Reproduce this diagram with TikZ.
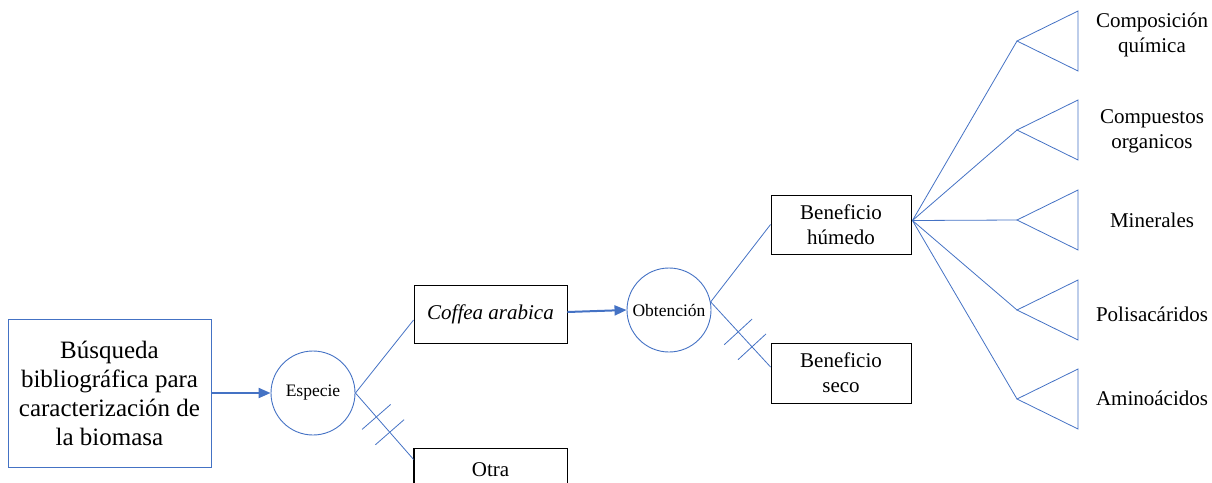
\documentclass[tikz,border=0pt]{standalone}
\usepackage{fontspec}
\setmainfont{Liberation Serif}
\usetikzlibrary{calc,arrows.meta}
\definecolor{wblue}{RGB}{68,114,196}
\begin{document}
\begin{tikzpicture}[x=1pt,y=-1pt,
  conn/.style={draw=wblue,line width=0.8pt},
  arr/.style={draw=wblue,line width=2pt,-{Triangle[length=12pt,width=10pt]}},
  box/.style={draw=black,line width=0.9pt,inner sep=0pt,align=center,font=\fontsize{21}{25}\selectfont},
  circ/.style={draw=wblue,line width=0.9pt,circle,minimum size=84pt,inner sep=0pt,font=\fontsize{17.5}{20}\selectfont},
  lbl/.style={align=center,inner sep=0pt,font=\fontsize{21}{25}\selectfont},
  tri/.style={draw=wblue,line width=0.8pt,line join=miter}]
\useasboundingbox (0,0) rectangle (1212,482);
\clip (0,0) rectangle (1212,482);
% nodes
\node[draw=wblue,line width=0.9pt,minimum width=203pt,minimum height=148pt,align=center,inner sep=0pt,font=\fontsize{25}{29}\selectfont] (main) at (109.5,393) {Búsqueda\\bibliográfica para\\caracterización de\\la biomasa};
\node[circ] (esp) at (313,393) {Especie};
\node[box,minimum width=153pt,minimum height=58pt] (coffea) at (490.5,314) {\itshape Coffea arabica};
\node[box,minimum width=153pt,minimum height=42pt,anchor=north] (otra) at (490.5,448) {Otra};
\draw[black,line width=0.9pt] (otra.north west) -- ++(0,60) (otra.north east) -- ++(0,60);
\node[circ] (obt) at (669,310) {Obtención};
\node[box,minimum width=140pt,minimum height=59pt] (bh) at (841,224.5) {Beneficio\\húmedo};
\node[box,minimum width=140pt,minimum height=60pt] (bs) at (841,373) {Beneficio\\seco};
% connectors
\draw[arr] (main.east) -- (esp.west);
\draw[arr] ($(coffea.east)+(0,-2)$) -- (obt.west);
\coordinate (cw) at ($(coffea.west)+(0,6)$);
\coordinate (ow) at ($(otra.west)+(0,-10)$);
\draw[conn] (esp.east) -- (cw);
\draw[conn] (esp.east) -- (ow);
\coordinate (h1) at ($(esp.east)!0.36!(ow)$);
\coordinate (h2) at ($(esp.east)!0.59!(ow)$);
\draw[conn] ($(h1)!19pt!90:(ow)$) -- ($(h1)!19pt!-90:(ow)$);
\draw[conn] ($(h2)!19pt!90:(ow)$) -- ($(h2)!19pt!-90:(ow)$);
\coordinate (os) at (obt.11);
\coordinate (bsw) at ($(bs.west)+(0,-6)$);
\draw[conn] (os) -- (bh.west);
\draw[conn] (os) -- (bsw);
\coordinate (h3) at ($(os)!0.46!(bsw)$);
\coordinate (h4) at ($(os)!0.69!(bsw)$);
\draw[conn] ($(h3)!19pt!90:(bsw)$) -- ($(h3)!19pt!-90:(bsw)$);
\draw[conn] ($(h4)!19pt!90:(bsw)$) -- ($(h4)!19pt!-90:(bsw)$);
% fan and triangles
\coordinate (be) at ($(bh.east)+(1,-4)$);
\foreach \i/\y in {1/41,2/130,3/220,4/310,5/399}{
  \coordinate (t\i) at (1017,\y);
  \draw[conn] (be) -- (t\i);
  \draw[tri] (t\i) -- (1078,\y-30) -- (1078,\y+30) -- cycle;
}
% labels
\node[lbl] (l1) at (1152,35) {Composición\\química};
\node[lbl] (l2) at (1152,131) {Compuestos\\organicos};
\node[lbl] (l3) at (1152,220) {Minerales};
\node[lbl] (l4) at (1152,314) {Polisacáridos};
\node[lbl] (l5) at (1152,398) {Aminoácidos};
\end{tikzpicture}
\end{document}
